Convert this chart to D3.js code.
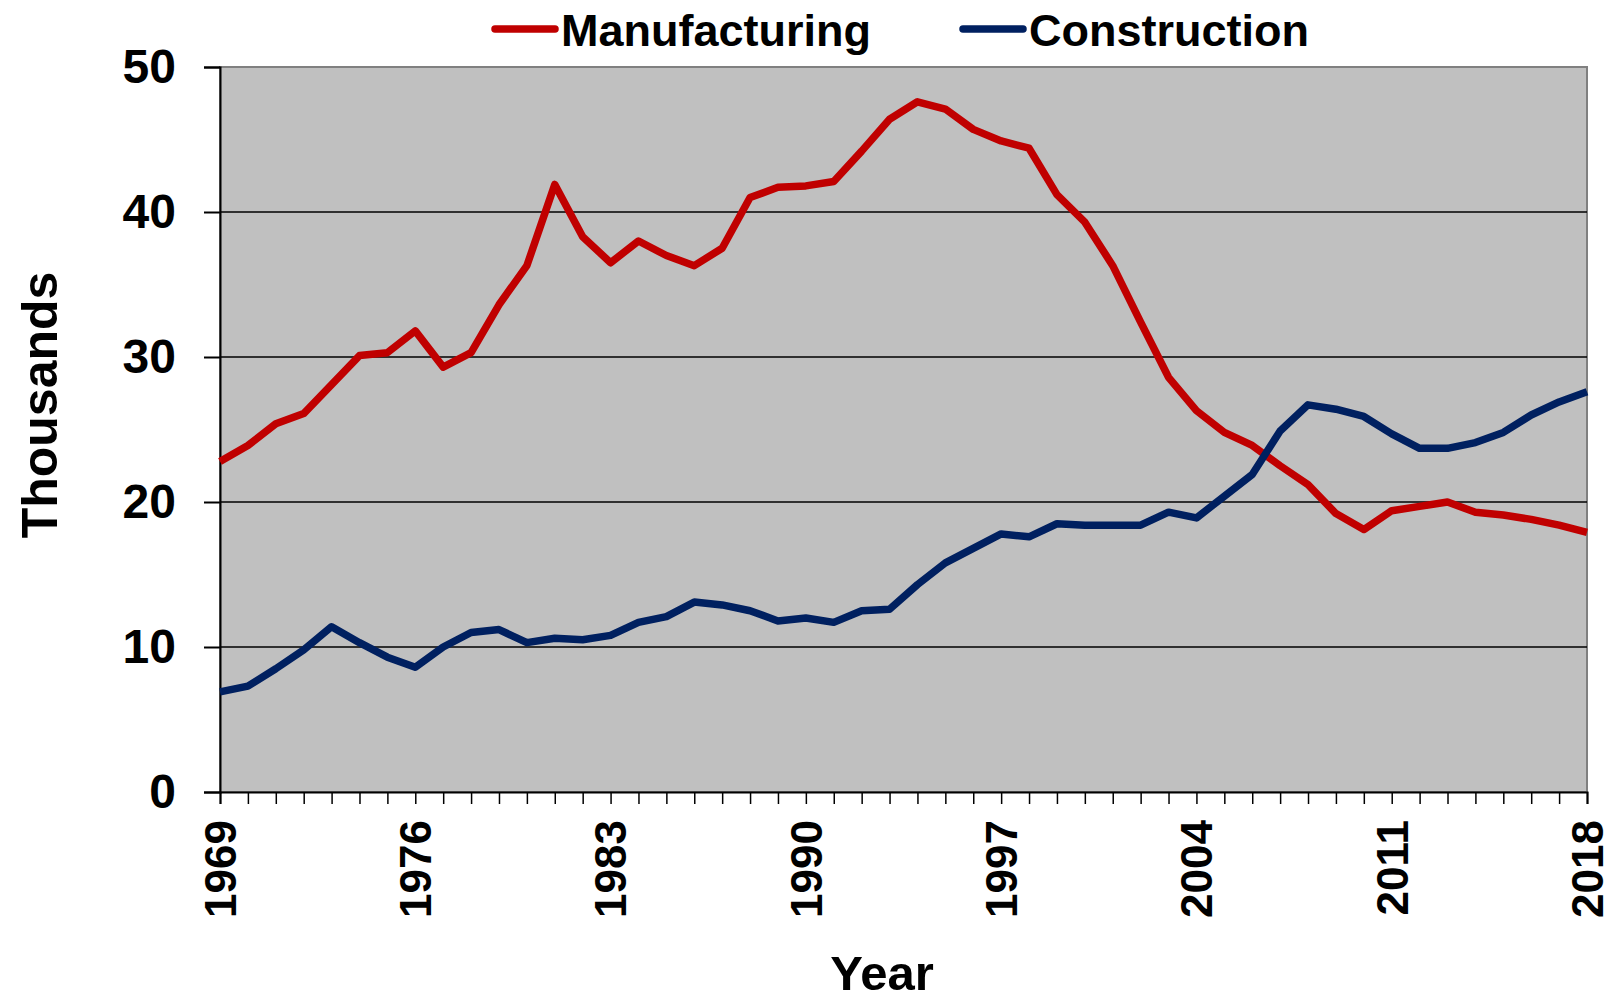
<!DOCTYPE html>
<html>
<head>
<meta charset="utf-8">
<script src="https://cdn.jsdelivr.net/npm/d3@7"></script>
<style>
  body { margin: 0; background: #fff; }
  svg { display: block; }
</style>
</head>
<body>
<div id="chart"></div>
<script>
// Employment by sector, thousands
const years = d3.range(1969, 2019);

const manufacturing = [
  22.8, 23.9, 25.4, 26.1, 28.1, 30.1, 30.3, 31.8, 29.3, 30.3,
  33.6, 36.3, 41.9, 38.3, 36.5, 38.0, 37.0, 36.3, 37.5, 41.0,
  41.7, 41.8, 42.1, 44.2, 46.4, 47.6, 47.1, 45.7, 44.9, 44.4,
  41.2, 39.3, 36.3, 32.4, 28.6, 26.3, 24.8, 23.9, 22.5, 21.2,
  19.2, 18.1, 19.4, 19.7, 20.0, 19.3, 19.1, 18.8, 18.4, 17.9
];

const construction = [
  6.9, 7.3, 8.5, 9.8, 11.4, 10.3, 9.3, 8.6, 10.0, 11.0,
  11.2, 10.3, 10.6, 10.5, 10.8, 11.7, 12.1, 13.1, 12.9, 12.5,
  11.8, 12.0, 11.7, 12.5, 12.6, 14.3, 15.8, 16.8, 17.8, 17.6,
  18.5, 18.4, 18.4, 18.4, 19.3, 18.9, 20.4, 21.9, 24.9, 26.7,
  26.4, 25.9, 24.7, 23.7, 23.7, 24.1, 24.8, 26.0, 26.9, 27.6
];

const yTicks = [0, 10, 20, 30, 40, 50];
const xLabelYears = [1969, 1976, 1983, 1990, 1997, 2004, 2011, 2018];

const series = [
  { name: 'Manufacturing', values: manufacturing, color: '#C00000' },
  { name: 'Construction', values: construction, color: '#002060' }
];

const width = 1619, height = 1000;
const margin = { left: 220, right: 32, top: 67, bottom: 208 };
const font = "'Liberation Sans', Arial, sans-serif";

const svg = d3.select('#chart').append('svg')
  .attr('width', width)
  .attr('height', height);

const x = d3.scaleLinear()
  .domain([1969, 2018])
  .range([margin.left, width - margin.right]);

const y = d3.scaleLinear()
  .domain([0, 50])
  .range([height - margin.bottom, margin.top]);

// plot background
svg.append('rect')
  .attr('x', x(1969)).attr('y', y(50))
  .attr('width', x(2018) - x(1969)).attr('height', y(0) - y(50))
  .attr('fill', '#C0C0C0')
  .attr('stroke', '#808080')
  .attr('stroke-width', 2);

// gridlines
svg.append('g')
  .selectAll('line')
  .data(yTicks.filter(d => d > 0 && d < 50))
  .enter().append('line')
  .attr('x1', x(1969)).attr('x2', x(2018))
  .attr('y1', d => y(d)).attr('y2', d => y(d))
  .attr('stroke', '#000')
  .attr('stroke-width', 1.5);

// y axis
const yAxis = svg.append('g')
  .attr('transform', `translate(${x(1969)},0)`)
  .call(d3.axisLeft(y).tickValues(yTicks).tickSize(16).tickPadding(28));
yAxis.select('.domain').attr('stroke', '#000').attr('stroke-width', 2);
yAxis.selectAll('.tick line').attr('stroke', '#000').attr('stroke-width', 2);
yAxis.selectAll('.tick text')
  .attr('font-family', font)
  .attr('font-weight', 'bold')
  .attr('font-size', 48)
  .attr('fill', '#000');

// x axis
const xAxis = svg.append('g')
  .attr('transform', `translate(0,${y(0)})`)
  .call(d3.axisBottom(x).tickValues(years).tickSize(12).tickFormat(''));
xAxis.select('.domain').attr('stroke', '#000').attr('stroke-width', 2);
xAxis.selectAll('.tick line').attr('stroke', '#000').attr('stroke-width', 1.5);

svg.append('g')
  .selectAll('text')
  .data(xLabelYears)
  .enter().append('text')
  .attr('transform', d => `translate(${x(d)},${y(0) + 28}) rotate(-90)`)
  .attr('text-anchor', 'end')
  .attr('dy', '0.36em')
  .attr('font-family', font)
  .attr('font-weight', 'bold')
  .attr('font-size', 44)
  .attr('fill', '#000')
  .text(d => d);

// lines
const line = d3.line()
  .x((d, i) => x(years[i]))
  .y(d => y(d));

svg.append('g')
  .selectAll('path')
  .data(series)
  .enter().append('path')
  .attr('d', d => line(d.values))
  .attr('fill', 'none')
  .attr('stroke', d => d.color)
  .attr('stroke-width', 7.5)
  .attr('stroke-linejoin', 'round');

// axis titles
svg.append('text')
  .attr('transform', `translate(57,405) rotate(-90)`)
  .attr('text-anchor', 'middle')
  .attr('font-family', font)
  .attr('font-weight', 'bold')
  .attr('font-size', 50)
  .text('Thousands');

svg.append('text')
  .attr('x', 882)
  .attr('y', 990)
  .attr('text-anchor', 'middle')
  .attr('font-family', font)
  .attr('font-weight', 'bold')
  .attr('font-size', 49)
  .text('Year');

// legend
const legendPos = [492, 960];
const legend = svg.append('g')
  .selectAll('g')
  .data(series)
  .enter().append('g')
  .attr('transform', (d, i) => `translate(${legendPos[i]},29)`);

legend.append('line')
  .attr('x1', 3).attr('x2', 63)
  .attr('y1', 0).attr('y2', 0)
  .attr('stroke', d => d.color)
  .attr('stroke-width', 7.5)
  .attr('stroke-linecap', 'round');

legend.append('text')
  .attr('x', 69)
  .attr('y', 17)
  .attr('font-family', font)
  .attr('font-weight', 'bold')
  .attr('font-size', 45)
  .text(d => d.name);
</script>
</body>
</html>
